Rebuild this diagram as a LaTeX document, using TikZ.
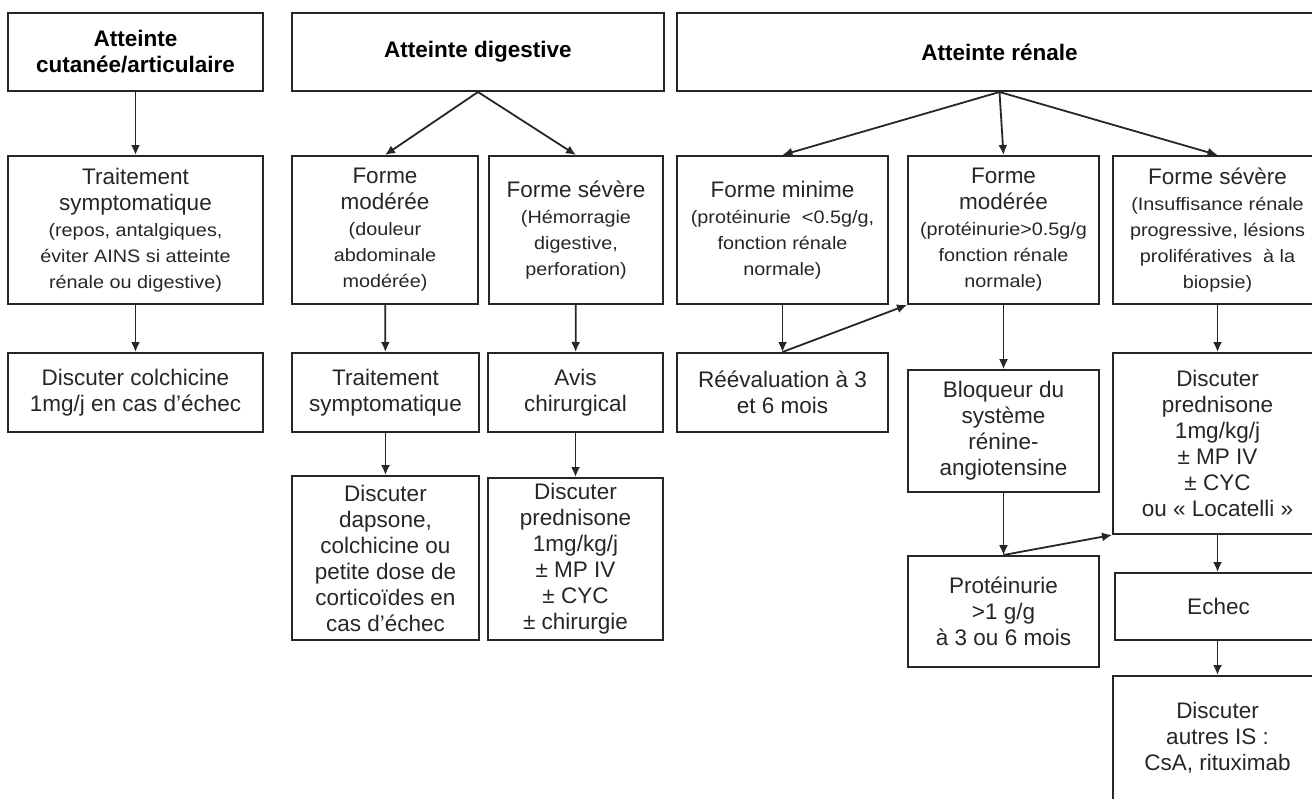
\documentclass[tikz,border=0pt]{standalone}
\usepackage{fontspec}
\setmainfont{Liberation Sans}
\newfontfamily\widefont[FakeStretch=1.1]{Liberation Sans}
\usepackage{tikz}
\usetikzlibrary{shapes,arrows.meta,positioning}
\definecolor{ink}{HTML}{262626}
\newcommand{\bigtxt}{\fontsize{22.5}{26}\selectfont}
\newcommand{\smalltxt}{\widefont\fontsize{18}{22.5}\selectfont}
\newcommand{\smallline}[1]{{\smalltxt #1}}

\begin{document}
\begin{tikzpicture}[x=1pt,y=-1pt,
  boxstyle/.style={rectangle,draw=ink,line width=2pt,inner sep=0pt,align=center,font=\bigtxt,text=ink},
  headstyle/.style={boxstyle,font=\bigtxt\bfseries,text=black},
  arrowstyle/.style={draw=ink,line width=1.8pt,-{Latex[length=10pt,width=9pt]}},
  thinarrow/.style={arrowstyle,line width=1.2pt}]
\useasboundingbox (0,0) rectangle (1312,798);
       \node [headstyle,minimum width=255,minimum height=78]  (cut) at (135.5,52) {Atteinte\\cutanée/articulaire};
       \node [headstyle,minimum width=372,minimum height=78]  (dig) at (478,52) {Atteinte digestive};
       \node [headstyle,minimum width=645,minimum height=78]  (ren) at (999.5,52) {Atteinte rénale};

       \node [boxstyle,minimum width=255,minimum height=148]  (cutsymp) at (135.5,230) {Traitement\\symptomatique\\\smallline{(repos, antalgiques,}\\\smallline{éviter AINS si atteinte}\\\smallline{rénale ou digestive)}};
       \node [boxstyle,minimum width=186,minimum height=148]  (digmod) at (385,230) {Forme\\modérée\\\smallline{(douleur}\\\smallline{abdominale}\\\smallline{modérée)}};
       \node [boxstyle,minimum width=174,minimum height=148]  (digsev) at (576,230) {Forme sévère\\\smallline{(Hémorragie}\\\smallline{digestive,}\\\smallline{perforation)}};
       \node [boxstyle,minimum width=211,minimum height=148]  (renmin) at (782.5,230) {Forme minime\\\smallline{(protéinurie \ <0.5g/g,}\\\smallline{fonction rénale}\\\smallline{normale)}};
       \node [boxstyle,minimum width=191,minimum height=148]  (renmod) at (1003.5,230) {Forme\\modérée\\\smallline{(protéinurie>0.5g/g}\\\smallline{fonction rénale}\\\smallline{normale)}};
       \node [boxstyle,minimum width=209,minimum height=148]  (rensev) at (1217.5,230) {Forme sévère\\\smallline{(Insuffisance rénale}\\\smallline{progressive, lésions}\\\smallline{prolifératives \ à la}\\\smallline{biopsie)}};

       \node [boxstyle,minimum width=255,minimum height=79]  (cutcol) at (135.5,392.5) {Discuter colchicine\\1mg/j en cas d’échec};
       \node [boxstyle,minimum width=187,minimum height=79]  (digsymp) at (385.5,392.5) {Traitement\\symptomatique};
       \node [boxstyle,minimum width=175,minimum height=79]  (digchir) at (575.5,392.5) {Avis\\chirurgical};
       \node [boxstyle,minimum width=211,minimum height=79]  (reeval) at (782.5,392.5) {Réévaluation à 3\\et 6 mois};
       \node [boxstyle,minimum width=191,minimum height=122]  (bloq) at (1003.5,431) {Bloqueur du\\système\\rénine-\\angiotensine};
       \node [boxstyle,minimum width=209,minimum height=181]  (renpred) at (1217.5,443.5) {Discuter\\prednisone\\1mg/kg/j\\± MP IV\\± CYC\\ou « Locatelli »};

       \node [boxstyle,minimum width=187,minimum height=164]  (digdap) at (385.5,558) {Discuter\\dapsone,\\colchicine ou\\petite dose de\\corticoïdes en\\cas d’échec};
       \node [boxstyle,minimum width=175,minimum height=162]  (digpred) at (575.5,559) {Discuter\\prednisone\\1mg/kg/j\\± MP IV\\± CYC\\± chirurgie};
       \node [boxstyle,minimum width=191,minimum height=111]  (prot) at (1003.5,611.5) {Protéinurie\\>1 g/g\\à 3 ou 6 mois};
       \node [boxstyle,minimum width=207,minimum height=67]  (echec) at (1218.5,606.5) {Echec};
       \node [boxstyle,minimum width=209,minimum height=124]  (autres) at (1217.5,738) {Discuter\\autres IS :\\CsA, rituximab};

\draw [arrowstyle] (cut)--(cutsymp) ;
\draw [arrowstyle] (cutsymp)--(cutcol) ;
\draw [arrowstyle] (dig.south)--(digmod.north) ;
\draw [arrowstyle] (dig.south)--(digsev.north) ;
\draw [arrowstyle] (digmod)--(digsymp) ;
\draw [arrowstyle] (digsev)--(digchir) ;
\draw [arrowstyle] (digsymp)--(digdap) ;
\draw [arrowstyle] (digchir)--(digpred) ;
\draw [arrowstyle] (ren.south)--(renmin.north) ;
\draw [arrowstyle] (ren.south)--(renmod.north) ;
\draw [arrowstyle] (ren.south)--(rensev.north) ;
\draw [arrowstyle] (renmin)--(reeval) ;
\draw [arrowstyle] (reeval.north)--(renmod.south west) ;
\draw [thinarrow] (renmod)--(bloq) ;
\draw [thinarrow] (bloq)--(prot) ;
\draw [arrowstyle] (prot.north)--(renpred.south west) ;
\draw [arrowstyle] (rensev)--(renpred) ;
\draw [arrowstyle] (renpred.south)--(echec.north-|renpred.south) ;
\draw [arrowstyle] (echec.south-|autres.north)--(autres.north) ;
\end{tikzpicture}
\end{document}
